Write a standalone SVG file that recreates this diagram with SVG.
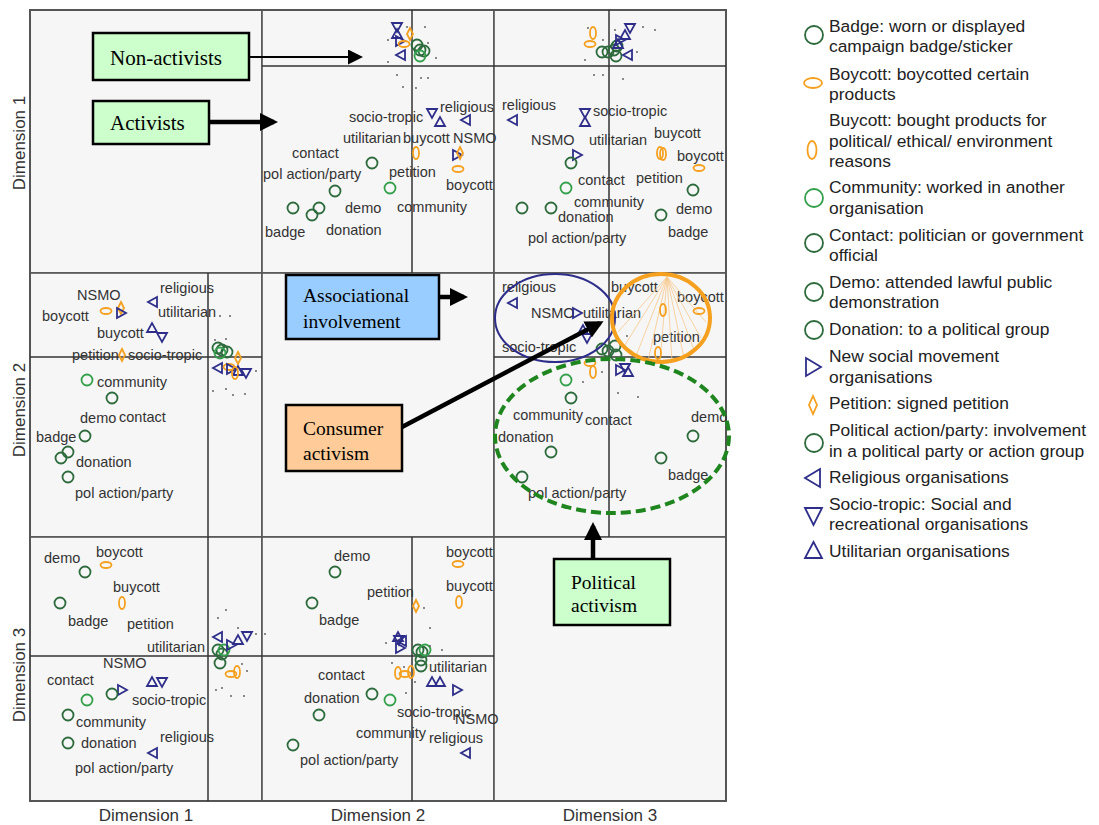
<svg xmlns="http://www.w3.org/2000/svg" xmlns:xlink="http://www.w3.org/1999/xlink" width="1099" height="825" viewBox="0 0 1099 825">
<style>
.cell{fill:#f6f6f6;stroke:#555;stroke-width:1.6}
.ax{stroke:#333;stroke-width:1.5}
.lb{font-family:"Liberation Sans",Arial,sans-serif;font-size:14.5px;fill:#333}
.dim{font-family:"Liberation Sans",Arial,sans-serif;font-size:17px;fill:#333}
.lg{font-family:"Liberation Sans",Arial,sans-serif;font-size:17.4px;fill:#222}
.bx{font-family:"Liberation Serif","Times New Roman",serif;font-size:19.5px;fill:#000}
.bxl{font-family:"Liberation Serif","Times New Roman",serif;font-size:21px;fill:#000}
.box{stroke:#000;stroke-width:2.5}
.dg{stroke:#2d6b3c;fill:none;stroke-width:1.8}
.lgn{stroke:#34a04c;fill:none;stroke-width:1.8}
.or{stroke:#f5a01e;fill:none;stroke-width:1.8}
.nv{stroke:#2e2e8a;fill:none;stroke-width:1.8}
.dot{fill:#555}
.conn{stroke:#000;fill:none}
</style>
<defs>
<circle id="c" r="5.5"/>
<ellipse id="eh" rx="5.5" ry="3"/>
<ellipse id="ev" rx="3" ry="6"/>
<polygon id="dm" points="0,-6 3,0 0,6 -3,0"/>
<polygon id="tr" points="-4,-5 5,0 -4,5"/>
<polygon id="tl" points="4,-5 -5,0 4,5"/>
<polygon id="td" points="-5,-4 5,-4 0,5"/>
<polygon id="tu" points="-5,4 5,4 0,-5"/>
<marker id="ah" markerUnits="userSpaceOnUse" markerWidth="18" markerHeight="18" viewBox="0 0 18 18" refX="14" refY="9" orient="auto"><path d="M0,0 L18,9 L0,18 z" fill="#000"/></marker>
<marker id="ahs" markerUnits="userSpaceOnUse" markerWidth="15" markerHeight="15" viewBox="0 0 15 15" refX="12" refY="7.5" orient="auto"><path d="M0,0 L15,7.5 L0,15 z" fill="#000"/></marker>
</defs>
<rect width="1099" height="825" fill="#fff"/>

<g id="grid">
<rect class="cell" x="30" y="10" width="232" height="263"/>
<rect class="cell" x="262" y="10" width="232" height="263"/>
<rect class="cell" x="494" y="10" width="232" height="263"/>
<rect class="cell" x="30" y="273" width="232" height="264"/>
<rect class="cell" x="262" y="273" width="232" height="264"/>
<rect class="cell" x="494" y="273" width="232" height="264"/>
<rect class="cell" x="30" y="537" width="232" height="264"/>
<rect class="cell" x="262" y="537" width="232" height="264"/>
<rect class="cell" x="494" y="537" width="232" height="264"/>
<rect x="30" y="10" width="696" height="791" fill="none" stroke="#555" stroke-width="2"/>
<line class="ax" x1="412" y1="10" x2="412" y2="273"/><line class="ax" x1="262" y1="66" x2="494" y2="66"/>
<line class="ax" x1="609" y1="10" x2="609" y2="273"/><line class="ax" x1="494" y1="66" x2="726" y2="66"/>
<line class="ax" x1="208" y1="273" x2="208" y2="537"/><line class="ax" x1="30" y1="357" x2="262" y2="357"/>
<line class="ax" x1="609" y1="273" x2="609" y2="537"/><line class="ax" x1="494" y1="357" x2="726" y2="357"/>
<line class="ax" x1="208" y1="537" x2="208" y2="801"/><line class="ax" x1="30" y1="656" x2="262" y2="656"/>
<line class="ax" x1="412" y1="537" x2="412" y2="801"/><line class="ax" x1="262" y1="656" x2="494" y2="656"/>
</g>

<g id="axis-titles">
<text class="dim" transform="translate(25,143) rotate(-90)" text-anchor="middle">Dimension 1</text>
<text class="dim" transform="translate(25,410) rotate(-90)" text-anchor="middle">Dimension 2</text>
<text class="dim" transform="translate(25,675) rotate(-90)" text-anchor="middle">Dimension 3</text>
<text class="dim" x="146" y="821" text-anchor="middle">Dimension 1</text>
<text class="dim" x="378" y="821" text-anchor="middle">Dimension 2</text>
<text class="dim" x="610" y="821" text-anchor="middle">Dimension 3</text>
</g>

<!-- Panel row1 col2 -->
<g id="p12">
<use href="#td" x="397" y="27" class="nv"/><use href="#tu" x="397" y="34" class="nv"/><use href="#tr" x="400" y="41" class="nv"/><use href="#tl" x="401" y="55" class="nv"/>
<use href="#dm" x="410" y="34" class="or"/><use href="#eh" x="404" y="44" class="or"/>
<use href="#c" x="417" y="45" class="dg"/><use href="#c" x="420" y="50" class="dg"/><use href="#c" x="424" y="51" class="dg"/><use href="#c" x="420" y="56" class="lgn"/>
<g class="dot"><circle cx="407" cy="27" r="0.9"/><circle cx="425" cy="27" r="0.9"/><circle cx="388" cy="40" r="0.9"/><circle cx="428" cy="43" r="0.9"/><circle cx="436" cy="58" r="0.9"/><circle cx="388" cy="62" r="0.9"/><circle cx="397" cy="75" r="0.9"/><circle cx="421" cy="78" r="0.9"/><circle cx="428" cy="78" r="0.9"/><circle cx="403" cy="87" r="0.9"/><circle cx="416" cy="88" r="0.9"/></g>
<text class="lb" x="349" y="122">socio-tropic</text>
<text class="lb" x="440" y="112">religious</text>
<text class="lb" x="343" y="143">utilitarian</text>
<text class="lb" x="403" y="143">buycott</text>
<text class="lb" x="453" y="143">NSMO</text>
<text class="lb" x="292" y="158">contact</text>
<text class="lb" x="263" y="179">pol action/party</text>
<text class="lb" x="389" y="177">petition</text>
<text class="lb" x="446" y="190">boycott</text>
<text class="lb" x="345" y="213">demo</text>
<text class="lb" x="397" y="212">community</text>
<text class="lb" x="265" y="237">badge</text>
<text class="lb" x="326" y="235">donation</text>
<use href="#td" x="432" y="113" class="nv"/><use href="#tu" x="440" y="122" class="nv"/><use href="#tl" x="466" y="120" class="nv"/>
<use href="#ev" x="416" y="153" class="or"/><use href="#tr" x="457" y="155" class="nv"/><use href="#dm" x="460" y="153" class="or"/><use href="#eh" x="458" y="169" class="or"/>
<use href="#c" x="372" y="163" class="dg"/><use href="#c" x="335" y="191" class="dg"/><use href="#c" x="390" y="188" class="lgn"/>
<use href="#c" x="293" y="208" class="dg"/><use href="#c" x="312" y="215" class="dg"/><use href="#c" x="319" y="208" class="dg"/>
</g>

<!-- Panel row1 col3 -->
<g id="p13">
<use href="#ev" x="593" y="33" class="or"/><use href="#eh" x="590" y="44" class="or"/>
<use href="#c" x="602" y="52" class="dg"/><use href="#c" x="608" y="52" class="dg"/><use href="#c" x="614" y="50" class="dg"/><use href="#c" x="616" y="56" class="dg"/><use href="#c" x="617" y="46" class="dg"/>
<use href="#td" x="630" y="28" class="nv"/><use href="#tu" x="625" y="35" class="nv"/><use href="#tr" x="620" y="40" class="nv"/><use href="#tu" x="618" y="44" class="nv"/><use href="#tl" x="628" y="55" class="nv"/>
<g class="dot"><circle cx="588" cy="28" r="0.9"/><circle cx="615" cy="30" r="0.9"/><circle cx="643" cy="27" r="0.9"/><circle cx="655" cy="30" r="0.9"/><circle cx="585" cy="60" r="0.9"/><circle cx="637" cy="52" r="0.9"/><circle cx="594" cy="75" r="0.9"/><circle cx="603" cy="75" r="0.9"/><circle cx="623" cy="79" r="0.9"/><circle cx="603" cy="40" r="0.9"/></g>
<text class="lb" x="502" y="110">religious</text>
<text class="lb" x="593" y="116">socio-tropic</text>
<text class="lb" x="531" y="145">NSMO</text>
<text class="lb" x="589" y="145">utilitarian</text>
<text class="lb" x="654" y="138">buycott</text>
<text class="lb" x="677" y="161">boycott</text>
<text class="lb" x="578" y="185">contact</text>
<text class="lb" x="636" y="183">petition</text>
<text class="lb" x="574" y="207">community</text>
<text class="lb" x="558" y="222">donation</text>
<text class="lb" x="676" y="214">demo</text>
<text class="lb" x="668" y="237">badge</text>
<text class="lb" x="528" y="243">pol action/party</text>
<use href="#tl" x="513" y="120" class="nv"/><use href="#td" x="585" y="113" class="nv"/><use href="#tu" x="585" y="122" class="nv"/><use href="#tr" x="577" y="155" class="nv"/>
<use href="#ev" x="660" y="153" class="or"/><use href="#ev" x="663" y="154" class="or"/><use href="#eh" x="699" y="168" class="or"/>
<use href="#c" x="571" y="163" class="dg"/><use href="#c" x="566" y="188" class="lgn"/><use href="#c" x="693" y="190" class="dg"/>
<use href="#c" x="522" y="208" class="dg"/><use href="#c" x="551" y="208" class="dg"/><use href="#c" x="661" y="215" class="dg"/>
</g>

<!-- Panel row2 col1 -->
<g id="p21">
<text class="lb" x="77" y="300">NSMO</text>
<text class="lb" x="160" y="293">religious</text>
<text class="lb" x="42" y="321">boycott</text>
<text class="lb" x="158" y="317">utilitarian</text>
<text class="lb" x="97" y="338">buycott</text>
<text class="lb" x="72" y="360">petition</text>
<text class="lb" x="128" y="360">socio-tropic</text>
<text class="lb" x="97" y="387">community</text>
<text class="lb" x="80" y="423">demo</text>
<text class="lb" x="119" y="422">contact</text>
<text class="lb" x="36" y="442">badge</text>
<text class="lb" x="76" y="467">donation</text>
<text class="lb" x="75" y="498">pol action/party</text>
<use href="#eh" x="106" y="311" class="or"/><use href="#dm" x="121" y="308" class="or"/><use href="#tr" x="121" y="313" class="nv"/>
<use href="#tl" x="153" y="302" class="nv"/><use href="#tu" x="152" y="328" class="nv"/><use href="#td" x="162" y="337" class="nv"/>
<use href="#dm" x="122" y="355" class="or"/>
<use href="#c" x="87" y="380" class="lgn"/><use href="#c" x="112" y="398" class="dg"/><use href="#c" x="85" y="436" class="dg"/>
<use href="#c" x="68" y="452" class="dg"/><use href="#c" x="61" y="458" class="dg"/><use href="#c" x="68" y="477" class="dg"/>
<use href="#c" x="218" y="348" class="dg"/><use href="#c" x="222" y="350" class="dg"/><use href="#c" x="227" y="352" class="dg"/><use href="#c" x="220" y="353" class="lgn"/>
<use href="#dm" x="238" y="358" class="or"/><use href="#tl" x="218" y="368" class="nv"/><use href="#eh" x="229" y="367" class="or"/><use href="#tr" x="231" y="369" class="nv"/><use href="#tu" x="238" y="371" class="nv"/><use href="#td" x="246" y="373" class="nv"/><use href="#ev" x="235" y="373" class="or"/>
<g class="dot"><circle cx="220" cy="316" r="0.9"/><circle cx="230" cy="316" r="0.9"/><circle cx="215" cy="340" r="0.9"/><circle cx="226" cy="339" r="0.9"/><circle cx="256" cy="371" r="0.9"/><circle cx="213" cy="391" r="0.9"/><circle cx="226" cy="389" r="0.9"/><circle cx="233" cy="395" r="0.9"/><circle cx="245" cy="394" r="0.9"/></g>
</g>

<!-- Panel row2 col3 -->
<g id="p23">
<text class="lb" x="502" y="292">religious</text>
<text class="lb" x="531" y="318">NSMO</text>
<text class="lb" x="583" y="318">utilitarian</text>
<text class="lb" x="611" y="292">buycott</text>
<text class="lb" x="677" y="302">boycott</text>
<text class="lb" x="502" y="352">socio-tropic</text>
<text class="lb" x="653" y="342">petition</text>
<text class="lb" x="513" y="420">community</text>
<text class="lb" x="585" y="425">contact</text>
<text class="lb" x="691" y="422">demo</text>
<text class="lb" x="498" y="442">donation</text>
<text class="lb" x="668" y="480">badge</text>
<text class="lb" x="528" y="498">pol action/party</text>
<g stroke="#f8c88a" stroke-width="0.8">
<line x1="667" y1="277" x2="618" y2="332"/><line x1="667" y1="277" x2="625" y2="345"/><line x1="667" y1="277" x2="636" y2="356"/><line x1="667" y1="277" x2="648" y2="361"/><line x1="667" y1="277" x2="660" y2="362"/><line x1="667" y1="277" x2="672" y2="362"/><line x1="667" y1="277" x2="684" y2="358"/><line x1="667" y1="277" x2="694" y2="350"/><line x1="667" y1="277" x2="701" y2="338"/><line x1="667" y1="277" x2="706" y2="322"/>
</g>
<use href="#tl" x="513" y="303" class="nv"/><use href="#tr" x="577" y="313" class="nv"/><use href="#tu" x="583" y="330" class="nv"/><use href="#td" x="587" y="338" class="nv"/>
<use href="#ev" x="663" y="310" class="or"/><use href="#eh" x="699" y="311" class="or"/><use href="#ev" x="658" y="353" class="or"/>
<use href="#c" x="602" y="349" class="dg"/><use href="#c" x="608" y="351" class="dg"/><use href="#c" x="615" y="346" class="dg"/><use href="#c" x="616" y="355" class="dg"/>
<use href="#eh" x="590" y="363" class="or"/><use href="#ev" x="593" y="372" class="or"/>
<use href="#tr" x="620" y="370" class="nv"/><use href="#td" x="625" y="368" class="nv"/><use href="#tu" x="628" y="372" class="nv"/>
<g class="dot"><circle cx="602" cy="372" r="0.9"/><circle cx="583" cy="382" r="0.9"/><circle cx="618" cy="393" r="0.9"/><circle cx="638" cy="397" r="0.9"/><circle cx="627" cy="336" r="0.9"/></g>
<use href="#c" x="566" y="380" class="lgn"/><use href="#c" x="571" y="398" class="dg"/><use href="#c" x="693" y="436" class="dg"/>
<use href="#c" x="551" y="452" class="dg"/><use href="#c" x="661" y="458" class="dg"/><use href="#c" x="522" y="477" class="dg"/>
</g>

<!-- Panel row3 col1 -->
<g id="p31">
<text class="lb" x="44" y="563">demo</text>
<text class="lb" x="96" y="557">boycott</text>
<text class="lb" x="113" y="592">buycott</text>
<text class="lb" x="68" y="626">badge</text>
<text class="lb" x="127" y="629">petition</text>
<text class="lb" x="147" y="652">utilitarian</text>
<text class="lb" x="103" y="668">NSMO</text>
<text class="lb" x="47" y="685">contact</text>
<text class="lb" x="132" y="705">socio-tropic</text>
<text class="lb" x="76" y="727">community</text>
<text class="lb" x="160" y="742">religious</text>
<text class="lb" x="81" y="748">donation</text>
<text class="lb" x="75" y="773">pol action/party</text>
<use href="#eh" x="106" y="565" class="or"/><use href="#c" x="85" y="572" class="dg"/><use href="#c" x="60" y="603" class="dg"/><use href="#ev" x="122" y="603" class="or"/>
<use href="#tl" x="218" y="637" class="nv"/><use href="#c" x="218" y="650" class="dg"/><use href="#c" x="222" y="654" class="dg"/><use href="#c" x="220" y="663" class="dg"/><use href="#c" x="224" y="650" class="lgn"/>
<use href="#tu" x="238" y="640" class="nv"/><use href="#td" x="247" y="636" class="nv"/><use href="#tr" x="231" y="645" class="nv"/>
<use href="#eh" x="231" y="674" class="or"/><use href="#ev" x="237" y="672" class="or"/>
<g class="dot"><circle cx="226" cy="610" r="0.9"/><circle cx="218" cy="618" r="0.9"/><circle cx="238" cy="628" r="0.9"/><circle cx="256" cy="634" r="0.9"/><circle cx="242" cy="664" r="0.9"/><circle cx="247" cy="671" r="0.9"/><circle cx="216" cy="690" r="0.9"/><circle cx="222" cy="688" r="0.9"/><circle cx="231" cy="696" r="0.9"/><circle cx="244" cy="696" r="0.9"/></g>
<use href="#tu" x="152" y="682" class="nv"/><use href="#td" x="162" y="682" class="nv"/><use href="#tr" x="122" y="690" class="nv"/>
<use href="#c" x="112" y="694" class="dg"/><use href="#c" x="87" y="700" class="lgn"/><use href="#c" x="68" y="715" class="dg"/><use href="#c" x="68" y="743" class="dg"/><use href="#tl" x="153" y="753" class="nv"/>
</g>

<!-- Panel row3 col2 -->
<g id="p32">
<text class="lb" x="334" y="561">demo</text>
<text class="lb" x="446" y="557">boycott</text>
<text class="lb" x="367" y="597">petition</text>
<text class="lb" x="446" y="591">buycott</text>
<text class="lb" x="319" y="625">badge</text>
<text class="lb" x="429" y="672">utilitarian</text>
<text class="lb" x="318" y="680">contact</text>
<text class="lb" x="304" y="703">donation</text>
<text class="lb" x="397" y="717">socio-tropic</text>
<text class="lb" x="455" y="724">NSMO</text>
<text class="lb" x="356" y="738">community</text>
<text class="lb" x="429" y="743">religious</text>
<text class="lb" x="300" y="765">pol action/party</text>
<use href="#c" x="335" y="572" class="dg"/><use href="#eh" x="458" y="564" class="or"/><use href="#c" x="312" y="603" class="dg"/><use href="#ev" x="459" y="602" class="or"/><use href="#dm" x="416" y="606" class="or"/>
<use href="#tu" x="398" y="637" class="nv"/><use href="#td" x="399" y="640" class="nv"/><use href="#tr" x="400" y="648" class="nv"/><use href="#tl" x="402" y="641" class="nv"/>
<use href="#c" x="418" y="650" class="dg"/><use href="#c" x="422" y="652" class="dg"/><use href="#c" x="421" y="660" class="dg"/><use href="#c" x="421" y="666" class="dg"/><use href="#c" x="425" y="650" class="lgn"/>
<use href="#ev" x="398" y="673" class="or"/><use href="#eh" x="405" y="674" class="or"/><use href="#ev" x="411" y="672" class="or"/>
<g class="dot"><circle cx="424" cy="608" r="0.9"/><circle cx="430" cy="628" r="0.9"/><circle cx="430" cy="646" r="0.9"/><circle cx="442" cy="650" r="0.9"/><circle cx="386" cy="643" r="0.9"/><circle cx="392" cy="663" r="0.9"/><circle cx="404" cy="667" r="0.9"/><circle cx="406" cy="693" r="0.9"/><circle cx="415" cy="682" r="0.9"/><circle cx="265" cy="634" r="0.9"/></g>
<use href="#tu" x="432" y="682" class="nv"/><use href="#tu" x="440" y="682" class="nv"/><use href="#tr" x="457" y="690" class="nv"/>
<use href="#c" x="372" y="694" class="dg"/><use href="#c" x="390" y="700" class="lgn"/><use href="#c" x="319" y="715" class="dg"/><use href="#c" x="293" y="745" class="dg"/><use href="#tl" x="466" y="753" class="nv"/>
</g>

<!-- Highlight ellipses -->
<g id="ellipse-assoc"><ellipse cx="555" cy="318" rx="60" ry="44" fill="none" stroke="#2e2e8a" stroke-width="2"/></g>
<g id="ellipse-consumer"><ellipse cx="661" cy="318" rx="49" ry="44" fill="none" stroke="#f5a01e" stroke-width="4"/></g>
<g id="ellipse-political"><ellipse cx="612" cy="436" rx="117" ry="77" fill="none" stroke="#1f861f" stroke-width="4" stroke-dasharray="10,5"/></g>

<g id="connectors">
<line class="conn" x1="249" y1="57" x2="360" y2="57" stroke-width="2" marker-end="url(#ahs)"/>
<line class="conn" x1="209" y1="122" x2="274" y2="122" stroke-width="4.5" marker-end="url(#ah)"/>
<line class="conn" x1="439" y1="297" x2="464" y2="297" stroke-width="4.5" marker-end="url(#ah)"/>
<line class="conn" x1="402" y1="427" x2="600" y2="323" stroke-width="4.5" marker-end="url(#ah)"/>
<line class="conn" x1="593" y1="559" x2="593" y2="526" stroke-width="4.5" marker-end="url(#ah)"/>
</g>

<g id="node-nonactivists"><rect class="box" x="93" y="33" width="156" height="47" fill="#ccffcc"/><text class="bxl" x="110" y="65">Non-activists</text></g>
<g id="node-activists"><rect class="box" x="93" y="101" width="116" height="43" fill="#ccffcc"/><text class="bxl" x="110" y="130">Activists</text></g>
<g id="node-associational"><rect class="box" x="286" y="275" width="153" height="64" fill="#99ccff"/><text class="bx" x="303" y="302">Associational</text><text class="bx" x="303" y="328">involvement</text></g>
<g id="node-consumer"><rect class="box" x="286" y="405" width="116" height="66" fill="#ffcc99"/><text class="bx" x="303" y="435">Consumer</text><text class="bx" x="303" y="460">activism</text></g>
<g id="node-political"><rect class="box" x="554" y="559" width="116" height="66" fill="#ccffcc"/><text class="bx" x="571" y="589">Political</text><text class="bx" x="571" y="612">activism</text></g>

<g id="legend">
<circle cx="814" cy="35" r="9" class="dg"/>
<ellipse cx="813" cy="83" rx="9" ry="5" class="or"/>
<ellipse cx="812" cy="150" rx="4.5" ry="9" class="or"/>
<circle cx="814" cy="198" r="9" class="lgn"/>
<circle cx="814" cy="243" r="9" class="dg"/>
<circle cx="814" cy="292" r="9" class="dg"/>
<circle cx="814" cy="330" r="9" class="dg"/>
<polygon points="806,358 821,367 806,376" class="nv"/>
<polygon points="813,396 817,405 813,414 809,405" class="or"/>
<circle cx="814" cy="443" r="9" class="dg"/>
<polygon points="820,469 805,478 820,487" class="nv"/>
<polygon points="805,508 822,508 813.5,525" class="nv"/>
<polygon points="805,558 822,558 813.5,542" class="nv"/>
<text class="lg" x="829" y="32">Badge: worn or displayed</text>
<text class="lg" x="829" y="52">campaign badge/sticker</text>
<text class="lg" x="829" y="80">Boycott: boycotted certain</text>
<text class="lg" x="829" y="100">products</text>
<text class="lg" x="829" y="126">Buycott: bought products for</text>
<text class="lg" x="829" y="147">political/ ethical/ environment</text>
<text class="lg" x="829" y="167">reasons</text>
<text class="lg" x="829" y="193">Community: worked in another</text>
<text class="lg" x="829" y="214">organisation</text>
<text class="lg" x="829" y="241">Contact: politician or government</text>
<text class="lg" x="829" y="261">official</text>
<text class="lg" x="829" y="288">Demo: attended lawful public</text>
<text class="lg" x="829" y="308">demonstration</text>
<text class="lg" x="829" y="335">Donation: to a political group</text>
<text class="lg" x="829" y="362">New social movement</text>
<text class="lg" x="829" y="383">organisations</text>
<text class="lg" x="829" y="409">Petition: signed petition</text>
<text class="lg" x="829" y="436">Political action/party: involvement</text>
<text class="lg" x="829" y="457">in a political party or action group</text>
<text class="lg" x="829" y="483">Religious organisations</text>
<text class="lg" x="829" y="510">Socio-tropic: Social and</text>
<text class="lg" x="829" y="530">recreational organisations</text>
<text class="lg" x="829" y="557">Utilitarian organisations</text>
</g>
</svg>
